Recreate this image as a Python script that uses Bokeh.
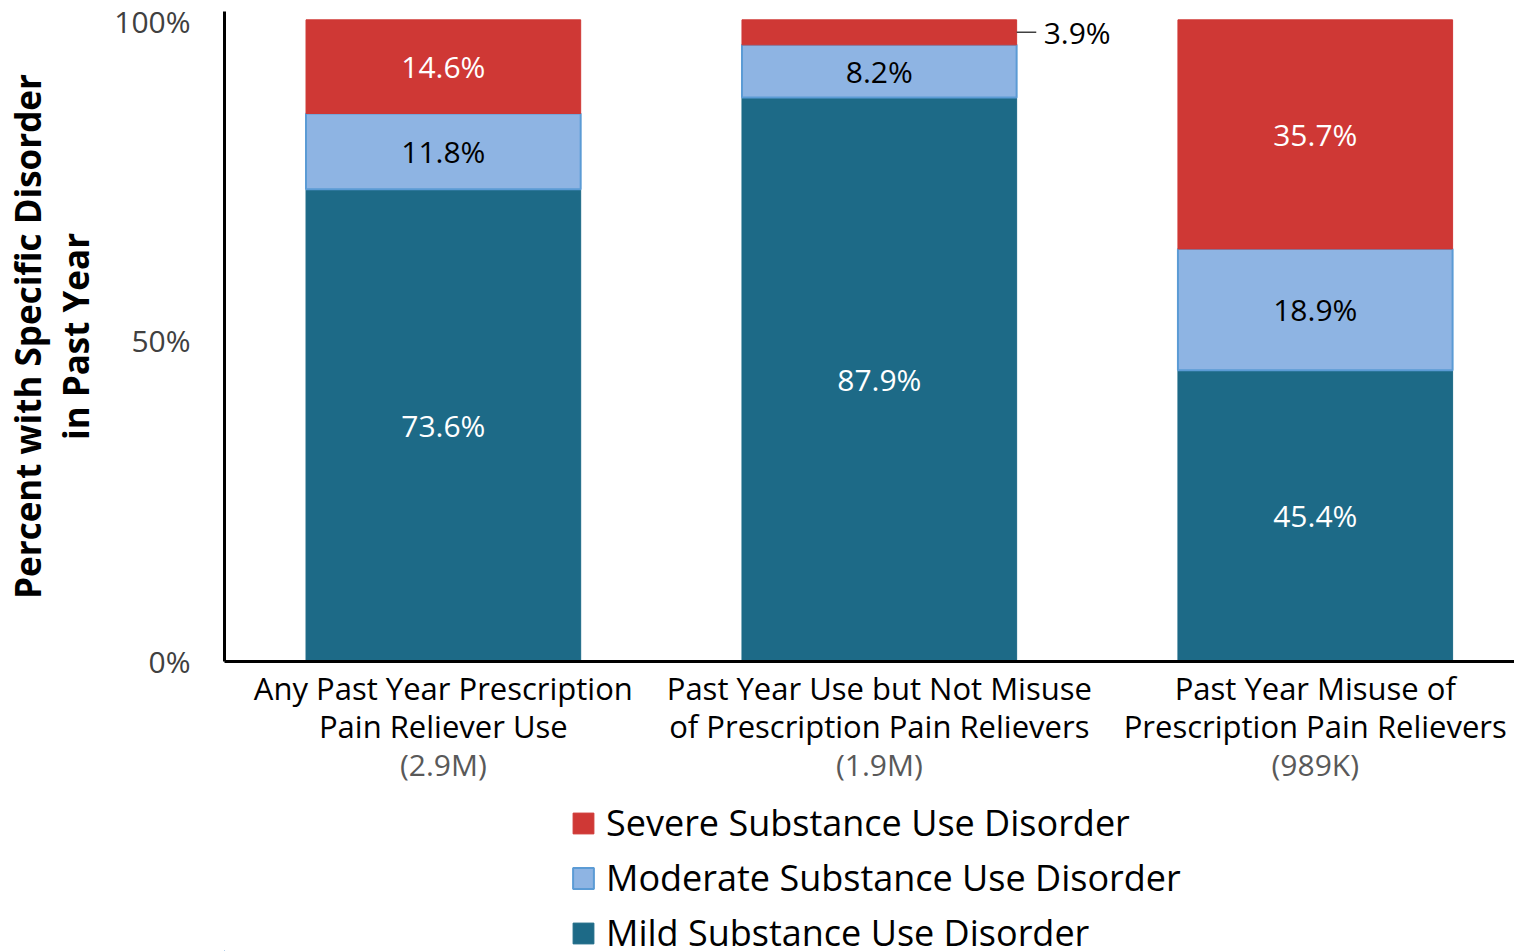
from bokeh.plotting import figure
from bokeh.layouts import column
from bokeh.models import (ColumnDataSource, Range1d, FixedTicker, LinearAxis,
                          Legend, LegendItem)
from bokeh.core.properties import value
from bokeh.embed import file_html
from bokeh.resources import INLINE

# ---- data ----
categories = ["Any Past Year Prescription\nPain Reliever Use",
              "Past Year Use but Not Misuse\nof Prescription Pain Relievers",
              "Past Year Misuse of\nPrescription Pain Relievers"]
counts = ["(2.9M)", "(1.9M)", "(989K)"]
mild = [73.6, 87.9, 45.4]
moderate = [11.8, 8.2, 18.9]
severe = [14.6, 3.9, 35.7]
series_names = ["Mild Substance Use Disorder",
                "Moderate Substance Use Disorder",
                "Severe Substance Use Disorder"]
y_ticks = [0, 50, 100]

FONT = "Open Sans"
C_MILD = "#1D6A87"
C_MOD = "#8EB4E3"
C_MOD_LINE = "#5B9BD5"
C_SEV = "#CF3835"
BAR_W = 0.63
fills = [C_MILD, C_MOD, C_SEV]
lines = [C_MILD, C_MOD_LINE, C_SEV]
lwidths = [1, 2, 1]
stack_cols = ["mild", "moderate", "severe"]

xs = list(range(len(categories)))
src = ColumnDataSource(dict(x=xs, mild=mild, moderate=moderate, severe=severe))

p = figure(frame_width=1290, frame_height=650, output_backend="svg", toolbar_location=None,
           x_range=Range1d(-0.502, 2.457), y_range=Range1d(0, 101.3),
           min_border_left=219, min_border_right=0, min_border_top=11,
           min_border_bottom=0, outline_line_color=None)
p.xgrid.visible = False
p.ygrid.visible = False

rs = p.vbar_stack(stack_cols, x="x", width=BAR_W, source=src,
                  fill_color=fills, line_color=lines, line_width=lwidths)

# ---- segment labels ----
lx, ly, lt, lc = [], [], [], []
ox, oy, ot = [], [], []
for i in xs:
    base = 0
    for vals, col in ((mild, "white"), (moderate, "black"), (severe, "white")):
        v = vals[i]
        mid = base + v / 2
        if v >= 5:
            lx.append(i); ly.append(mid); lt.append(f"{v:.1f}%"); lc.append(col)
        else:
            ox.append(i); oy.append(mid); ot.append(f"{v:.1f}%")
        base += v
p.text(x=lx, y=ly, text=lt, text_color=lc, text_align="center",
       text_baseline="middle", text_font=value(FONT), text_font_size="30px")
for i, y, t in zip(ox, oy, ot):
    right = i + BAR_W / 2
    p.segment(x0=[right], y0=[y], x1=[right + 0.045], y1=[y], line_color="#404040",
              line_width=1.5)
    p.text(x=[right + 0.062], y=[y], text=[t], text_color="black", text_align="left",
           text_baseline="middle", text_font=value(FONT), text_font_size="30px")

# ---- y axis ----
yax = p.yaxis[0]
yax.ticker = FixedTicker(ticks=y_ticks)
yax.major_label_overrides = {t: f"{t}%" for t in y_ticks}
yax.major_tick_line_color = None
yax.minor_tick_line_color = None
yax.axis_line_color = "black"
yax.axis_line_width = 3
yax.major_label_text_font = FONT
yax.major_label_text_font_size = "30px"
yax.major_label_text_color = "#404040"
yax.major_label_standoff = 28
yax.axis_label = "Percent with Specific Disorder\nin Past Year"
yax.axis_label_text_font = FONT
yax.axis_label_text_font_style = "bold"
yax.axis_label_text_font_size = "35px"
yax.axis_label_text_line_height = 1.03
yax.axis_label_text_color = "black"
yax.axis_label_standoff = 12

# ---- x axis ----
xax = p.xaxis[0]
xax.ticker = FixedTicker(ticks=xs)
xax.major_label_overrides = {i: c for i, c in zip(xs, categories)}
xax.major_tick_line_color = None
xax.minor_tick_line_color = None
xax.axis_line_color = "black"
xax.axis_line_width = 3
xax.major_label_text_font = FONT
xax.major_label_text_font_size = "31px"
xax.major_label_text_line_height = 0.915
xax.major_label_text_color = "black"
xax.major_label_standoff = -1

xax2 = LinearAxis(ticker=FixedTicker(ticks=xs),
                  major_label_overrides={i: c for i, c in zip(xs, counts)})
xax2.axis_line_color = None
xax2.major_tick_line_color = None
xax2.minor_tick_line_color = None
xax2.major_label_text_font = FONT
xax2.major_label_text_font_size = "30px"
xax2.major_label_text_line_height = 0.95
xax2.major_label_text_color = "#595959"
xax2.major_label_standoff = -12
p.add_layout(xax2, "below")

# ---- legend in its own strip below the chart ----
lg = figure(frame_width=1290, frame_height=164, output_backend="svg", toolbar_location=None,
            x_axis_type=None, y_axis_type=None,
            x_range=Range1d(10, 11), y_range=Range1d(1000, 1001),
            min_border_left=219, min_border_right=0, min_border_top=0, min_border_bottom=0,
            outline_line_color=None)
lg.xgrid.visible = False
lg.ygrid.visible = False
swatches = lg.vbar_stack(stack_cols, x="x", width=BAR_W, source=src,
                         fill_color=fills, line_color=lines, line_width=lwidths)
items = [LegendItem(label=series_names[k], renderers=[swatches[k]]) for k in (2, 1, 0)]
legend = Legend(items=items, location=(497, -6), orientation="vertical",
                glyph_width=26, glyph_height=26, label_standoff=10,
                label_text_font=FONT, label_text_font_size="36px",
                label_text_color="black",
                label_height=34, spacing=6, padding=0, margin=0,
                border_line_color=None, background_fill_alpha=0)
lg.add_layout(legend)

open("out.html", "w").write(file_html(column(p, lg, spacing=0), INLINE))
